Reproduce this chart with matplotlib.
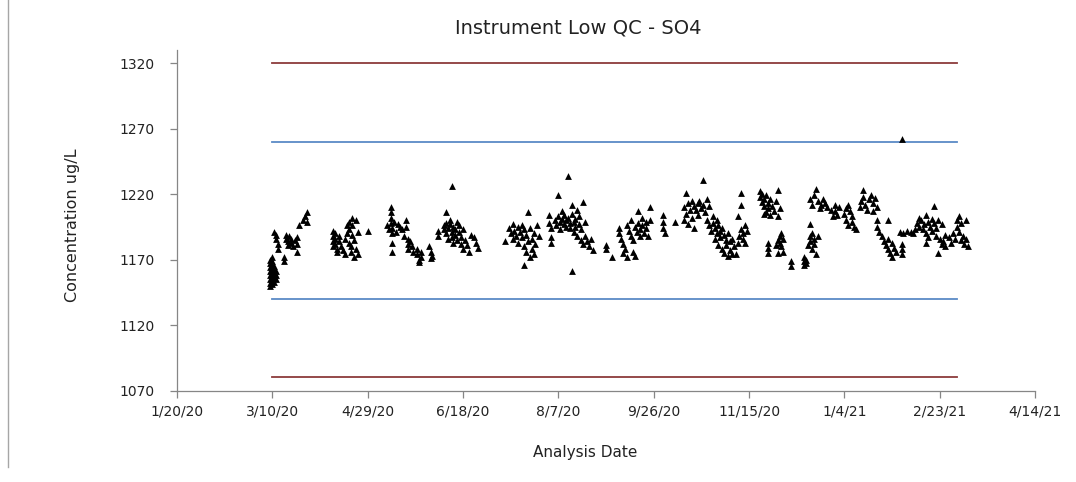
import pandas as pd
import matplotlib
matplotlib.use('Agg')
import matplotlib.pyplot as plt
from matplotlib.lines import Line2D

###############################################################################
# Data (days since 1/20/20, concentration ug/L)
###############################################################################
BASE_DATE = '2020-01-20'
day_offset = [
    49, 49, 49, 49, 49, 49, 49, 49,
    50, 50, 50, 50, 50, 50, 50, 50,
    51, 51, 51, 51, 51, 52, 52, 52,
    51, 52, 52, 53, 53, 56, 56, 57,
    57, 58, 58, 59, 60, 60, 61, 62,
    63, 63, 63, 64, 66, 67, 68, 68,
    82, 82, 82, 82, 83, 83, 83, 84,
    84, 85, 85, 86, 87, 88, 88, 89,
    89, 90, 90, 90, 91, 91, 92, 92,
    92, 93, 93, 94, 94, 95, 95, 100,
    110, 111, 112, 112, 112, 112, 113, 113,
    113, 113, 114, 115, 116, 117, 118, 119,
    120, 120, 121, 121, 121, 122, 123, 124,
    126, 126, 127, 127, 128, 128, 132, 133,
    133, 134,
    137, 137, 140, 140, 141, 141, 141, 142,
    142, 143, 143, 144, 144, 144, 145, 145,
    146, 146, 147, 147, 148, 148, 149, 149,
    150, 150, 151, 152, 153, 154, 156, 157,
    158,
    172, 174, 175, 176, 176, 177, 178, 179,
    179, 180, 181, 181, 182, 182, 182, 183,
    183, 184, 184, 185, 185, 186, 186, 187,
    187, 188, 189, 190,
    195, 195, 196, 196, 196, 198, 199, 200,
    200, 201, 201, 202, 202, 203, 203, 204,
    204, 205, 205, 206, 206, 207, 207, 207,
    208, 208, 209, 209, 210, 210, 211, 211,
    212, 212, 213, 213, 214, 214, 215, 216,
    217, 218, 225, 225, 228,
    232, 232, 233, 234, 234, 235, 236, 236,
    237, 238, 238, 239, 239, 240, 240, 241,
    242, 242, 243, 243, 244, 244, 245, 246,
    246, 247, 248, 248, 255, 255, 255, 256,
    261,
    266, 266, 267, 267, 268, 268, 269, 270,
    270, 271, 271, 272, 273, 273, 274, 275,
    276, 276, 277, 278, 279, 278, 279, 280,
    281, 281, 282, 282, 283, 283, 284, 284,
    285, 285, 286, 286, 287, 287, 288, 288,
    289, 289, 290, 290, 291, 291, 292, 293,
    294, 294, 295, 296, 296, 296, 297, 297,
    298, 298, 299,
    306, 306, 307, 307, 308, 308, 308, 309,
    309, 310, 310, 311, 311, 312, 313, 314,
    315, 315, 316, 310, 310, 310, 314, 315,
    315, 316, 316, 317, 317, 318, 318, 322,
    322,
    329, 329, 329, 330, 330, 331, 332, 332,
    332, 333, 333, 334, 334, 335, 336, 332,
    333, 334, 335, 336, 337, 338, 339, 340,
    341, 343, 344, 345, 345, 346, 347,
    350, 351, 351, 352, 352, 353, 354, 354,
    355, 356, 358, 359, 360, 360, 361, 362,
    363, 364, 365, 365, 366, 367, 367, 367,
    368, 370, 371, 372, 373, 373, 373, 374,
    375, 375, 376, 377, 380, 380, 380, 380,
    379, 381, 383, 385, 386, 387,
    388, 389, 389, 390, 391, 392, 393, 393,
    393, 394, 394, 395, 396, 396, 397, 397,
    398, 398, 399, 399, 400, 401, 401, 402,
    403, 403, 405, 406, 407, 408, 409, 409,
    410, 410, 411, 411, 412, 413, 414, 414,
    415,
]
conc = [
    1150, 1152, 1155, 1158, 1161, 1164, 1167, 1170,
    1151, 1154, 1157, 1160, 1163, 1166, 1169, 1172,
    1153, 1156, 1159, 1162, 1165, 1155, 1158, 1161,
    1191, 1189, 1186, 1182, 1178, 1172, 1169, 1186,
    1189, 1184, 1181, 1188, 1186, 1183, 1180, 1185,
    1187, 1182, 1176, 1196, 1200, 1203, 1206, 1199,
    1192, 1188, 1184, 1180, 1190, 1186, 1182, 1178,
    1176, 1188, 1184, 1180, 1177, 1174, 1186, 1190,
    1196, 1199, 1193, 1183, 1180, 1176, 1202, 1196,
    1189, 1185, 1172, 1200, 1178, 1191, 1174, 1192,
    1196, 1193, 1210, 1206, 1202, 1198, 1190, 1194,
    1183, 1176, 1199, 1191, 1197, 1195, 1193, 1188,
    1200, 1195, 1186, 1182, 1178, 1184, 1180, 1176,
    1178, 1174, 1170, 1168, 1176, 1172, 1180, 1176,
    1171, 1173,
    1192, 1188, 1196, 1193, 1206, 1198, 1190, 1194,
    1186, 1200, 1197, 1226, 1191, 1187, 1195, 1183,
    1193, 1189, 1199, 1185, 1196, 1191, 1187, 1182,
    1193, 1178, 1185, 1181, 1176, 1189, 1187, 1183,
    1179,
    1184, 1194, 1190, 1186, 1197, 1192, 1188, 1183,
    1195, 1191, 1196, 1187, 1193, 1180, 1166, 1189,
    1176, 1206, 1184, 1194, 1172, 1186, 1178, 1190,
    1174, 1182, 1196, 1188,
    1204, 1198, 1194, 1187, 1183, 1200, 1196, 1219,
    1203, 1199, 1193, 1207, 1201, 1197, 1204, 1200,
    1195, 1234, 1202, 1198, 1194, 1212, 1161, 1205,
    1199, 1191, 1201, 1195, 1208, 1188, 1203, 1197,
    1185, 1193, 1214, 1182, 1199, 1188, 1184, 1180,
    1186, 1177, 1181, 1178, 1172,
    1194, 1190, 1186, 1182, 1175, 1178, 1196, 1172,
    1192, 1188, 1200, 1185, 1176, 1195, 1173, 1191,
    1207, 1198, 1188, 1193, 1202, 1196, 1190, 1199,
    1194, 1188, 1210, 1200, 1204, 1199, 1194, 1190,
    1199,
    1210, 1200, 1221, 1205, 1213, 1197, 1208, 1215,
    1202, 1211, 1194, 1208, 1213, 1204, 1215, 1209,
    1231, 1212, 1206, 1216, 1211, 1200, 1196, 1192,
    1203, 1198, 1194, 1186, 1200, 1190, 1196, 1181,
    1192, 1187, 1178, 1194, 1189, 1175, 1185, 1181,
    1173, 1190, 1184, 1177, 1174, 1186, 1180, 1174,
    1203, 1183, 1188, 1221, 1212, 1193, 1190, 1186,
    1196, 1183, 1192,
    1222, 1218, 1214, 1220, 1216, 1211, 1205, 1219,
    1206, 1213, 1209, 1216, 1204, 1211, 1207, 1215,
    1223, 1203, 1209, 1183, 1179, 1175, 1181, 1185,
    1175, 1188, 1183, 1190, 1180, 1186, 1176, 1169,
    1165,
    1172, 1169, 1166, 1170, 1167, 1181, 1197, 1188,
    1184, 1178, 1190, 1186, 1182, 1174, 1188, 1216,
    1212, 1219, 1224, 1215, 1209, 1212, 1216, 1213,
    1210, 1208, 1203, 1212, 1207, 1204, 1210,
    1205, 1209, 1200, 1212, 1196, 1207, 1203, 1199,
    1195, 1193, 1210, 1215, 1223, 1218, 1212, 1208,
    1216, 1219, 1213, 1207, 1217, 1210, 1200, 1195,
    1191, 1188, 1184, 1181, 1178, 1186, 1200, 1175,
    1183, 1172, 1179, 1176, 1182, 1178, 1174, 1262,
    1191, 1190, 1192, 1191, 1190, 1193,
    1198, 1202, 1195, 1200, 1193, 1197, 1204, 1190,
    1183, 1199, 1187, 1195, 1201, 1192, 1211, 1198,
    1188, 1194, 1175, 1200, 1186, 1182, 1197, 1184,
    1180, 1189, 1187, 1183, 1190, 1186, 1200, 1195,
    1203, 1191, 1198, 1185, 1188, 1182, 1200, 1186,
    1180,
]
assert len(day_offset) == len(conc)

limit_dates = ['2020-03-10', '2021-03-04']
ctrl_limits = [1080, 1320]
warn_limits = [1140, 1260]
x_tick_labels = ['1/20/20', '3/10/20', '4/29/20', '6/18/20', '8/7/20',
                 '9/26/20', '11/15/20', '1/4/21', '2/23/21', '4/14/21']
y_ticks = [1070, 1120, 1170, 1220, 1270, 1320]

###############################################################################
# Style
###############################################################################
STYLE_AX = {'color': '#868686', 'width': 0.9}
STYLE_CTRL = {'color': '#8c3b3b', 'width': 1.3}
STYLE_WARN = {'color': '#5a8ac6', 'width': 1.3}
STYLE_PT = {'color': 'black', 'size': 24}

###############################################################################
# Plot
###############################################################################
dates = pd.Timestamp(BASE_DATE) + pd.to_timedelta(day_offset, unit='D')
x_tick_pos = pd.date_range(BASE_DATE, periods=len(x_tick_labels), freq='50D')
lim_x = pd.to_datetime(limit_dates)

fig = plt.figure(figsize=(10.76, 4.82), dpi=100)
ax = fig.add_axes([177/1076, 1-390.5/482, (1035-177)/1076, (390.5-50)/482])

for lv in ctrl_limits:
    ax.plot(lim_x, [lv, lv], color=STYLE_CTRL['color'], lw=STYLE_CTRL['width'], zorder=2)
for lv in warn_limits:
    ax.plot(lim_x, [lv, lv], color=STYLE_WARN['color'], lw=STYLE_WARN['width'], zorder=2)
ax.scatter(dates, conc, marker='^', s=STYLE_PT['size'], color=STYLE_PT['color'],
           linewidths=0, zorder=3)

ax.set_xlim(x_tick_pos[0], x_tick_pos[-1])
ax.set_ylim(1070, 1330)
ax.set_xticks(x_tick_pos)
ax.set_xticklabels(x_tick_labels)
ax.set_yticks(y_ticks)
ax.set_yticklabels([str(v) for v in y_ticks])

for side in ['top', 'right']:
    ax.spines[side].set_visible(False)
for side in ['left', 'bottom']:
    ax.spines[side].set_color(STYLE_AX['color'])
    ax.spines[side].set_linewidth(STYLE_AX['width'])
ax.tick_params(axis='y', direction='out', length=5, width=0.9, color=STYLE_AX['color'],
               pad=11, labelsize=10, labelcolor='#222222')
ax.tick_params(axis='x', direction='out', length=5, width=0.9, color=STYLE_AX['color'],
               pad=5, labelsize=10, labelcolor='#222222')

fig.text(578/1076, 1-28/482, 'Instrument Low QC - SO4', ha='center', va='center',
         fontsize=14, color='#222222')
fig.text(585/1076, 1-452/482, 'Analysis Date', ha='center', va='center',
         fontsize=11, color='#222222')
fig.text(72/1076, 1-225/482, 'Concentration ug/L', ha='center', va='center',
         rotation=90, fontsize=11.5, color='#222222')
fig.add_artist(Line2D([8/1076, 8/1076], [1-467/482, 1], color='#a6a6a6', lw=1))

fig.savefig('out.png', dpi=100, facecolor='white')
plt.close('all')
